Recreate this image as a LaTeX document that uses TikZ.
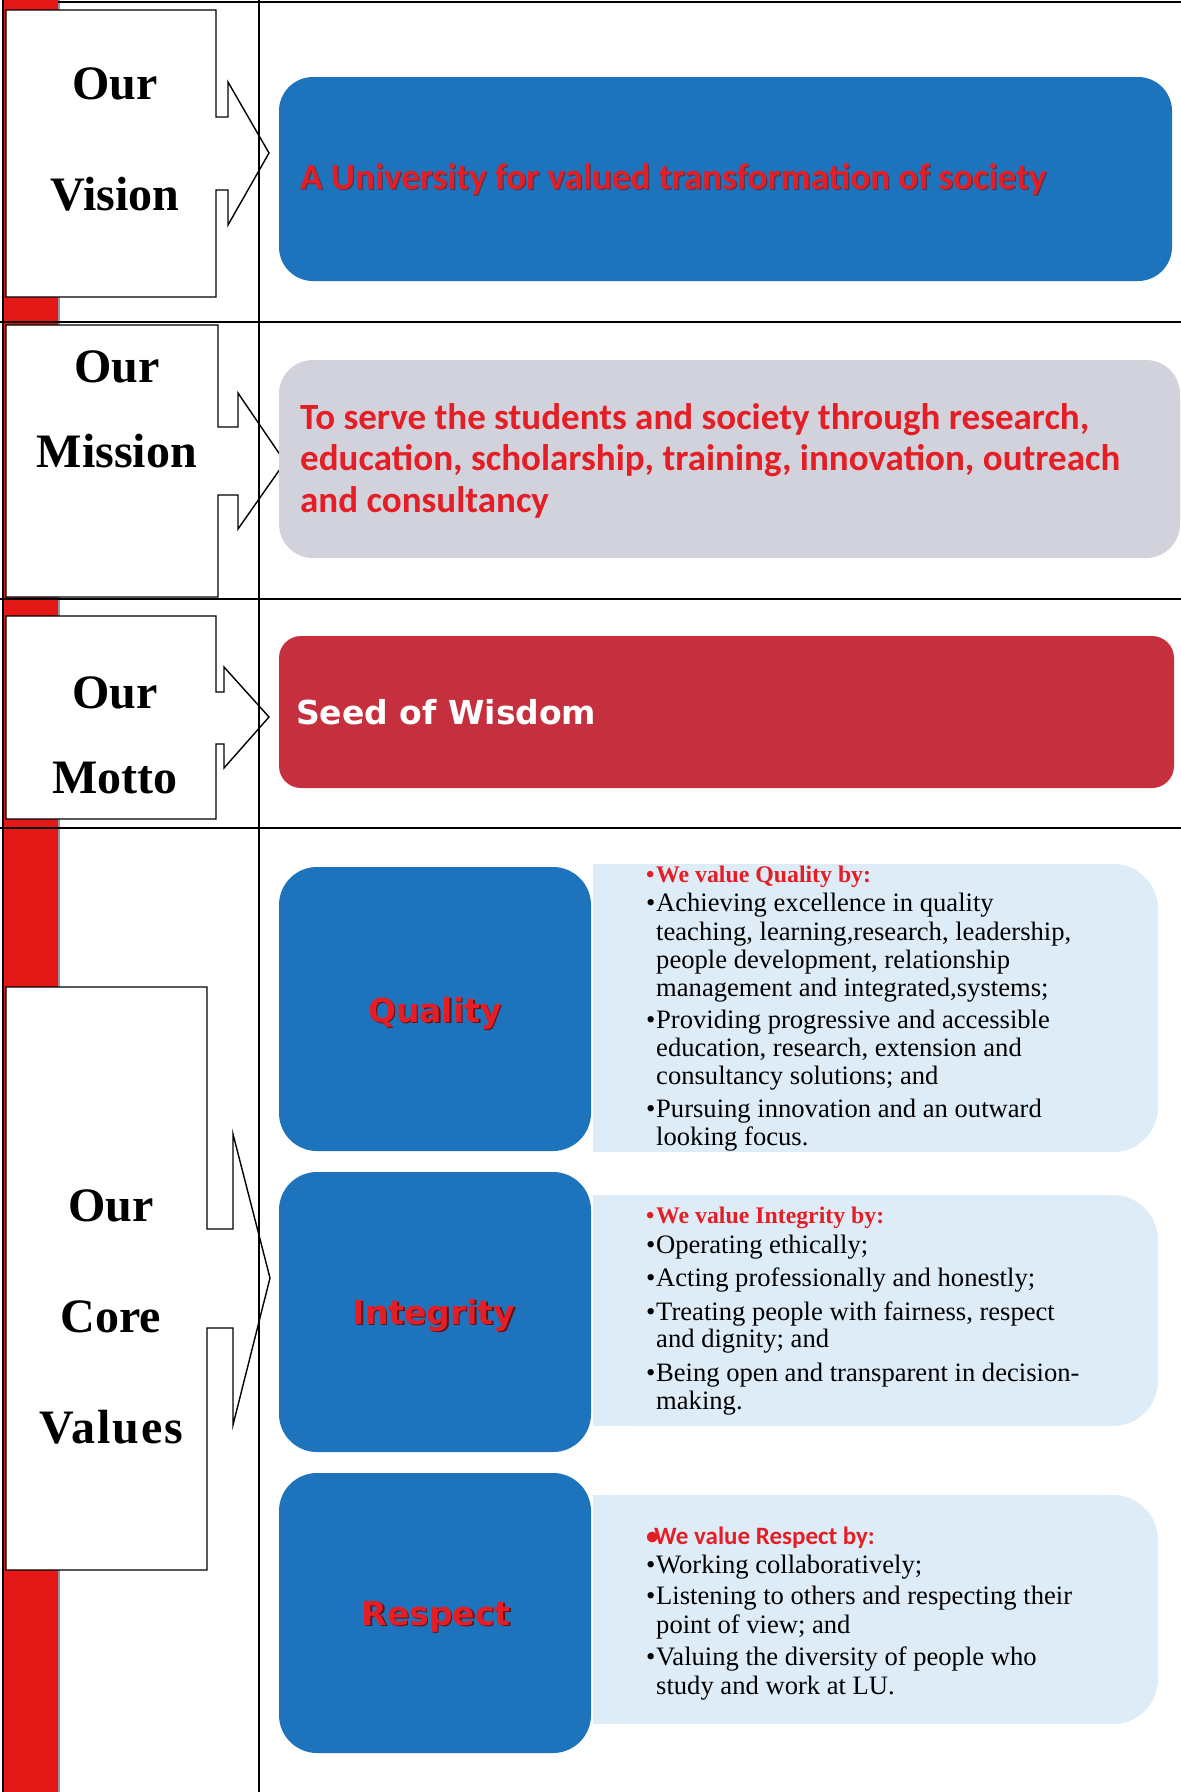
\documentclass[tikz,border=0pt]{standalone}
\usepackage{fontspec}
\setmainfont{Liberation Serif}
\newfontfamily\calfont{Carlito}
\newfontfamily\verfont{DejaVu Sans}
\definecolor{stripred}{RGB}{228,24,22}
\definecolor{boxblue}{RGB}{30,116,188}
\definecolor{misgrey}{RGB}{210,210,220}
\definecolor{mottored}{RGB}{198,48,62}
\definecolor{lightbox}{RGB}{222,236,247}
\definecolor{txtred}{RGB}{228,30,36}
\definecolor{shadowred}{RGB}{95,20,25}
\definecolor{stripshade}{RGB}{150,150,160}
\begin{document}
\begin{tikzpicture}[x=1pt,y=-1pt,
  callout/.style={draw=black, line width=1.4pt, fill=white, line join=miter},
  rowline/.style={draw=black, line width=1.3pt},
  title/.style={anchor=base, inner sep=0pt, font=\bfseries\fontsize{48}{56}\selectfont},
  body/.style={anchor=base west, inner sep=0pt, font=\fontsize{26.6}{30}\selectfont},
  headq/.style={anchor=base west, inner sep=0pt, text=txtred, font=\bfseries\fontsize{23.8}{28}\selectfont},
  lbl/.style={anchor=base, inner sep=0pt, font=\verfont\bfseries\fontsize{33}{40}\selectfont},
  mistext/.style={anchor=base west, inner sep=0pt, text=txtred, font=\calfont\bfseries\fontsize{37}{44}\selectfont},
]
\useasboundingbox (0,0) rectangle (1181,1792);
\fill[white] (0,0) rectangle (1181,1792);
% red strip
\fill[stripred] (3,0) rectangle (58,1792);
\draw[stripshade, line width=2pt] (59,0) -- (59,1792);
\draw[black, line width=1.2pt] (3,0) -- (3,1792);
% row lines
\draw[rowline] (58,2) -- (1181,2);
\draw[rowline] (0,322) -- (1181,322);
\draw[rowline] (0,599) -- (1181,599);
\draw[rowline] (0,828) -- (1181,828);

% callouts
\draw[callout] (6,10) -- (216,10) -- (216,117) -- (228,117) -- (228,82) -- (269,153) -- (228,225) -- (228,190) -- (216,190) -- (216,297) -- (6,297) -- cycle;
\draw[callout] (6,325) -- (218,325) -- (218,427) -- (238,427) -- (238,393) -- (285,462) -- (238,529) -- (238,495) -- (218,495) -- (218,597) -- (6,597) -- cycle;
\draw[callout] (6,616) -- (216,616) -- (216,692) -- (224,692) -- (224,667) -- (269,717) -- (224,768) -- (224,744) -- (216,744) -- (216,819) -- (6,819) -- cycle;
\draw[callout] (6,987) -- (207,987) -- (207,1229) -- (233,1229) -- (233,1134) -- (270,1278) -- (233,1425) -- (233,1328) -- (207,1328) -- (207,1570) -- (6,1570) -- cycle;

% vertical line
\draw[black, line width=1.2pt] (259,0) -- (259,1792);

% callout titles
\node[title] (v1) at (115,99) {Our};
\node[title] (v2) at (115,210) {Vision};
\node[title] (m1) at (117,382) {Our};
\node[title] (m2) at (117,467) {Mission};
\node[title] (t1) at (115,708) {Our};
\node[title] (t2) at (115,793) {Motto};
\node[title] (c1) at (111,1221) {Our};
\node[title] (c2) at (111,1332) {Core};
\node[title, font=\bfseries\fontsize{48}{56}\selectfont\addfontfeatures{LetterSpace=4}] (c3) at (111,1443) {Values};

% vision
\fill[boxblue, rounded corners=34pt] (279,77) rectangle (1172,281);
\node[mistext, text=shadowred!60!boxblue] (viss) at (301.2,190.2) {A University for valued transformation of society};
\node[mistext] (vis) at (300,189) {A University for valued transformation of society};

% mission
\fill[misgrey, rounded corners=34pt] (279,360) rectangle (1180,558);
\node[mistext] (mis1) at (300,429) {To serve the students and society through research,};
\node[mistext] (mis2) at (300,470) {education, scholarship, training, innovation, outreach};
\node[mistext] (mis3) at (300,512) {and consultancy};

% motto
\fill[mottored, rounded corners=22pt] (279,636) rectangle (1174,788);
\node[anchor=base west, inner sep=0pt, text=white, font=\verfont\bfseries\fontsize{33}{40}\selectfont] (mot) at (296,724) {Seed of Wisdom};

% core value boxes
\foreach \ya/\yb in {864/1152, 1195/1426, 1495/1724} {
  \fill[lightbox, rounded corners=45pt] (593,\ya) rectangle (1158,\yb);
  \fill[lightbox] (593,\ya) rectangle (700,\yb);
}
\fill[boxblue, rounded corners=38pt] (279,867) rectangle (591,1151);
\fill[boxblue, rounded corners=38pt] (279,1172) rectangle (591,1452);
\fill[boxblue, rounded corners=38pt] (279,1473) rectangle (591,1753);

\node[lbl, text=shadowred] (qs) at (436.5,1023.5) {Quality};
\node[lbl, text=txtred] (q) at (435,1022) {Quality};
\node[lbl, text=shadowred] (is) at (435.5,1325.5) {Integrity};
\node[lbl, text=txtred] (i) at (434,1324) {Integrity};
\node[lbl, text=shadowred] (rs) at (437.5,1626.5) {Respect};
\node[lbl, text=txtred] (r) at (436,1625) {Respect};

% quality text
\node[headq] (qh) at (646,882) {\makebox[10pt][l]{•}We value Quality by:};
\node[body] (q1) at (646,911) {\makebox[10pt][l]{•}Achieving excellence in quality};
\node[body] (q2) at (656,940) {teaching, learning,research, leadership,};
\node[body] (q3) at (656,968) {people development, relationship};
\node[body] (q4) at (656,996) {management and integrated,systems;};
\node[body] (q5) at (646,1028) {\makebox[10pt][l]{•}Providing progressive and accessible};
\node[body] (q6) at (656,1056) {education, research, extension and};
\node[body] (q7) at (656,1084) {consultancy solutions; and};
\node[body] (q8) at (646,1117) {\makebox[10pt][l]{•}Pursuing innovation and an outward};
\node[body] (q9) at (656,1145) {looking focus.};

% integrity text
\node[headq] (ih) at (646,1223) {\makebox[10pt][l]{•}We value Integrity by:};
\node[body] (i1) at (646,1253) {\makebox[10pt][l]{•}Operating ethically;};
\node[body] (i2) at (646,1286) {\makebox[10pt][l]{•}Acting professionally and honestly;};
\node[body] (i3) at (646,1320) {\makebox[10pt][l]{•}Treating people with fairness, respect};
\node[body] (i4) at (656,1347) {and dignity; and};
\node[body] (i5) at (646,1381) {\makebox[10pt][l]{•}Being open and transparent in decision-};
\node[body] (i6) at (656,1409) {making.};

% respect text
\node[anchor=base west, inner sep=0pt, text=txtred, font=\calfont\bfseries\fontsize{25}{30}\selectfont] (rh) at (646,1544) {\makebox[8pt][l]{•}We value Respect by:};
\node[body] (r1) at (646,1573) {\makebox[10pt][l]{•}Working collaboratively;};
\node[body] (r2) at (646,1604) {\makebox[10pt][l]{•}Listening to others and respecting their};
\node[body] (r3) at (656,1633) {point of view; and};
\node[body] (r4) at (646,1665) {\makebox[10pt][l]{•}Valuing the diversity of people who};
\node[body] (r5) at (656,1694) {study and work at LU.};
\end{tikzpicture}
\end{document}
